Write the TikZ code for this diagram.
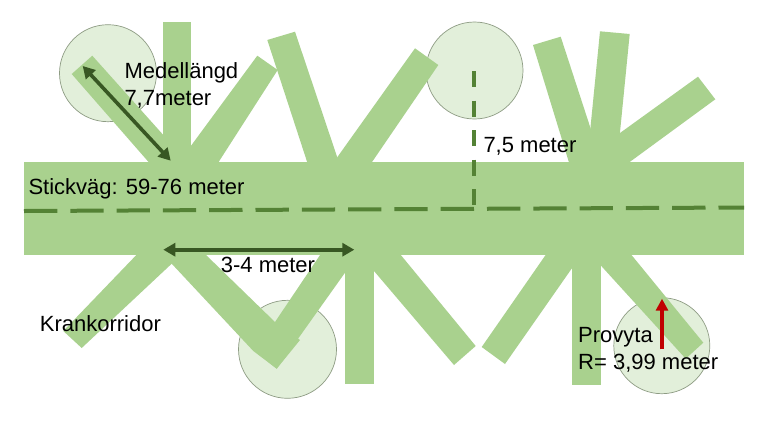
\documentclass[tikz,border=0pt]{standalone}
\usepackage{fontspec}
\setmainfont{Liberation Sans}
\usetikzlibrary{arrows.meta}
\definecolor{road}{HTML}{A9D18E}
\definecolor{plotfill}{HTML}{E2EFDA}
\definecolor{plotline}{HTML}{8E9C84}
\definecolor{dimdark}{HTML}{385723}
\definecolor{survey}{HTML}{548235}
\definecolor{redarrow}{HTML}{C00000}
\tikzset{
  roadshape/.style={fill=road,draw=none},
  plot/.style={fill=plotfill,draw=plotline,line width=0.7pt},
  label/.style={inner sep=0pt,anchor=base west,text=black,font=\fontsize{22}{24}\selectfont},
  dimarrow/.style={draw=dimdark,line width=3.6pt,{Triangle[length=12pt,width=13pt]}-{Triangle[length=12pt,width=13pt]}},
  redup/.style={draw=redarrow,line width=4pt,-{Triangle[length=12pt,width=12pt]}},
  longdash/.style={draw=survey,line width=4pt,dash pattern=on 33.3pt off 13pt},
  shortdash/.style={draw=survey,line width=4pt,dash pattern=on 16.3pt off 13.2pt},
}
\begin{document}
\begin{tikzpicture}[x=1pt,y=-1pt]
\useasboundingbox (0,0) rectangle (768,432);
\fill[white] (0,0) rectangle (768,432);
% sample plots
\node[plot,circle,minimum size=97pt,inner sep=0pt] (plotA) at (108,73.2) {};
\node[plot,circle,minimum size=97pt,inner sep=0pt] (plotB) at (474.5,70.5) {};
\node[plot,circle,minimum size=98pt,inner sep=0pt] (plotC) at (287.5,349.3) {};
\node[plot,circle,minimum size=96pt,inner sep=0pt] (plotD) at (661.8,345.7) {};
% road
\fill[roadshape] (24,162) rectangle (744,254.7);
% upper corridors
\fill[roadshape] (92.3,55.7) -- (71.7,74) -- (149,162.5) -- (190,162.5) -- (163.3,135) -- cycle;
\fill[roadshape] (162.7,22) rectangle (191.3,162.5);
\fill[roadshape] (257.3,55.7) -- (277.7,70) -- (218.3,162.5) -- (178.7,162.5) -- cycle;
\fill[roadshape] (267.3,40) -- (295,31.7) -- (339,162.5) -- (307.3,162.5) -- cycle;
\fill[roadshape] (415,48.3) -- (438.3,65) -- (371.7,162.5) -- (333.5,162.5) -- cycle;
\fill[roadshape] (533,45) -- (560.7,36.7) -- (601.7,162.5) -- (569,162.5) -- cycle;
\fill[roadshape] (600,31.3) -- (629.7,34) -- (617,162.5) -- (587,162.5) -- cycle;
\fill[roadshape] (698,76.7) -- (715.3,99.3) -- (629,162.5) -- (600,162.5) -- (620,133) -- cycle;
% lower corridors
\fill[roadshape] (137.3,254) -- (63.3,331) -- (81.7,348) -- (171.7,263.7) -- (181,254) -- cycle;
\fill[roadshape] (165,254) -- (171.7,263.7) -- (253.3,351) -- (276.7,368.7) -- (300,340) -- (275,322) -- (205,254) -- cycle;
\fill[roadshape] (276.7,368.7) -- (345,272.7) -- (345,254) -- (320.7,254) -- (275,322) -- (255,351) -- cycle;
\fill[roadshape] (345,254) rectangle (374,383.7);
\fill[roadshape] (400,254) -- (475.7,346) -- (454,365) -- (374,271) -- (360,254) -- cycle;
\fill[roadshape] (546.3,254) -- (481.7,347) -- (505,364) -- (570,271) -- (582,254) -- cycle;
\fill[roadshape] (571.7,254) rectangle (601.3,385.3);
\fill[roadshape] (630.7,254) -- (703.3,342.7) -- (685.7,358.7) -- (601.3,266) -- (590,254) -- cycle;
% survey lines
\coordinate (lineW) at (24,211);
\coordinate (lineE) at (744,207.5);
\coordinate (lineTop) at (474.3,71);
\coordinate (lineFoot) at (474.3,209);
\draw[longdash] (lineW) -- (lineE);
\draw[shortdash] (lineTop) -- (lineFoot);
% dimension arrows
\coordinate (lenA) at (82.7,66);
\coordinate (lenB) at (170.7,160.7);
\coordinate (gapA) at (163.3,249.7);
\coordinate (gapB) at (354.3,249.7);
\coordinate (radA) at (662,349.3);
\coordinate (radB) at (662,298.7);
\draw[dimarrow] (lenA) -- (lenB);
\draw[dimarrow] (gapA) -- (gapB);
\draw[redup] (radA) -- (radB);
% labels
\node[label] (medel) at (124.3,78.7) {Medellängd};
\node[label] (medelv) at (124.3,105.3) {7,7meter};
\node[label] (stick) at (28.3,194.7) {Stickväg: 59-76 meter};
\node[label] (bredd) at (483.3,152.7) {7,5 meter};
\node[label] (avst) at (220.7,272.7) {3-4 meter};
\node[label] (kran) at (39.7,331) {Krankorridor};
\node[label] (prov) at (578,342.7) {Provyta};
\node[label] (radie) at (578,369.3) {R= 3,99 meter};
\end{tikzpicture}
\end{document}
